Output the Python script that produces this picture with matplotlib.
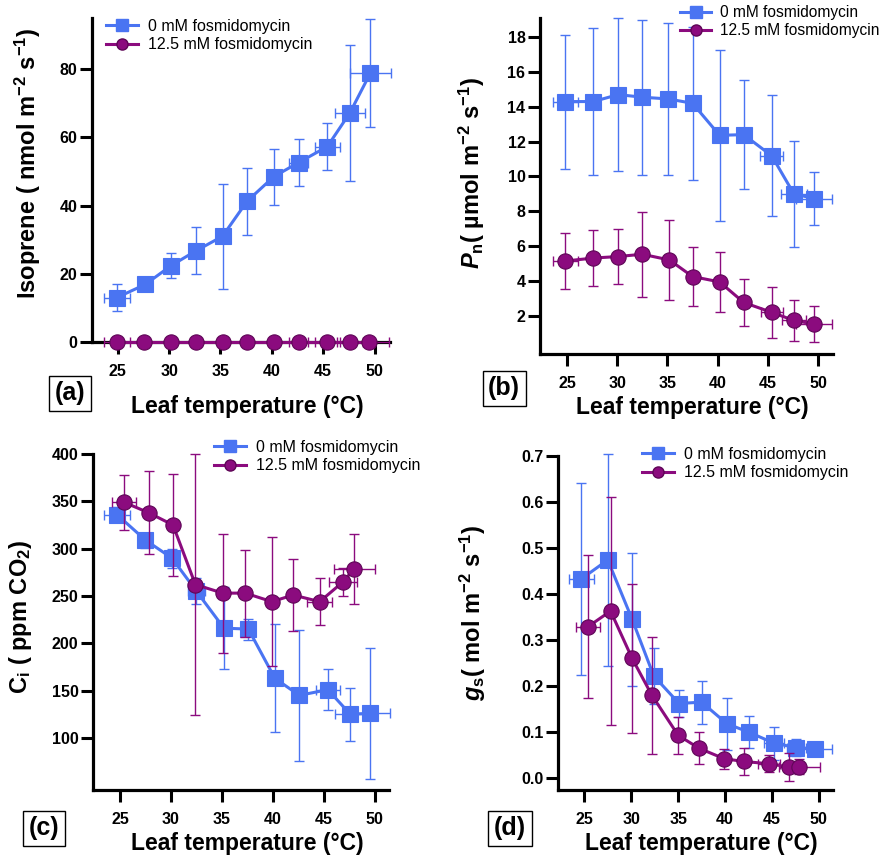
import matplotlib
matplotlib.use("Agg")
import matplotlib.pyplot as plt
from matplotlib.lines import Line2D

plt.rcParams['font.family'] = ['Liberation Sans', 'DejaVu Sans']
plt.rcParams['mathtext.fontset'] = 'custom'
plt.rcParams['mathtext.rm'] = 'Liberation Sans:bold'
plt.rcParams['mathtext.bf'] = 'Liberation Sans:bold'
plt.rcParams['mathtext.it'] = 'Liberation Sans:bold:italic'

BLUE = '#4A74F2'
PURPLE = '#8B0B7E'
PURPLE_EDGE = '#5E0656'

# (a) isoprene emission
temp_a_ctrl = [24.9, 27.7, 30.2, 32.6, 35.2, 37.6, 40.2, 42.6, 45.4, 47.6, 49.6]
iso_ctrl = [13.0, 16.9, 22.4, 26.7, 31.0, 41.3, 48.5, 52.6, 57.3, 67.2, 78.9]
iso_ctrl_err = [3.9, 0.8, 3.75, 6.9, 15.35, 9.8, 8.2, 6.9, 6.85, 20.0, 15.75]
temp_a_ctrl_err = [1.25, 0.3, 0.3, 0.3, 0.3, 0.3, 0.3, 0.9, 1.2, 1.5, 2.0]
temp_a_fos = [24.9, 27.6, 30.2, 32.6, 35.2, 37.6, 40.2, 42.6, 45.4, 47.6, 49.5]
iso_fos = [0, 0, 0, 0, 0, 0, 0, 0, 0, 0, 0]
iso_fos_err = [0, 0, 0, 0, 0, 0, 0, 0, 0, 0, 0]
temp_a_fos_err = [1.25, 0.3, 0.3, 0.3, 0.3, 0.3, 0.3, 0.9, 1.2, 1.3, 1.9]

# (b) net photosynthesis
temp_b_ctrl = [24.8, 27.6, 30.1, 32.5, 35.1, 37.5, 40.2, 42.6, 45.4, 47.6, 49.6]
pn_ctrl = [14.3, 14.3, 14.7, 14.55, 14.45, 14.2, 12.36, 12.4, 11.18, 9.0, 8.73]
pn_ctrl_err = [3.85, 4.2, 4.38, 4.44, 4.38, 4.4, 4.9, 3.15, 3.47, 3.03, 1.53]
temp_b_ctrl_err = [1.25, 0.3, 0.3, 0.3, 0.3, 0.3, 0.3, 0.3, 1.15, 1.3, 1.8]
temp_b_fos = [24.8, 27.6, 30.1, 32.5, 35.2, 37.5, 40.2, 42.6, 45.4, 47.6, 49.6]
pn_fos = [5.14, 5.31, 5.4, 5.53, 5.2, 4.25, 3.94, 2.76, 2.19, 1.73, 1.52]
pn_fos_err = [1.6, 1.6, 1.6, 2.44, 2.27, 1.7, 1.7, 1.33, 1.48, 1.17, 1.05]
temp_b_fos_err = [1.25, 0.3, 0.3, 0.3, 0.3, 0.3, 0.3, 0.5, 1.1, 1.2, 1.8]

# (c) intercellular CO2
temp_c_ctrl = [24.7, 27.5, 30.1, 32.5, 35.2, 37.6, 40.2, 42.6, 45.4, 47.6, 49.5]
ci_ctrl = [336, 309, 290, 255, 216, 215, 163, 145, 151, 125, 126]
ci_ctrl_err = [8, 8, 10, 13.5, 43, 11, 57, 69, 22, 28, 69]
temp_c_ctrl_err = [1.25, 0.3, 0.3, 0.8, 0.3, 0.3, 0.3, 0.3, 1.15, 1.5, 2.0]
temp_c_fos = [25.4, 27.8, 30.2, 32.4, 35.1, 37.3, 39.9, 42.0, 44.6, 46.9, 48.0]
ci_fos = [349, 338, 325, 262, 253, 253, 244, 251, 244, 265, 279]
ci_fos_err = [29, 44, 54, 138, 63, 46, 68, 38, 25, 15, 37]
temp_c_fos_err = [1.2, 0.3, 0.3, 0.3, 0.3, 0.3, 0.3, 0.3, 1.2, 1.4, 2.0]

# (d) stomatal conductance
temp_d_ctrl = [24.7, 27.5, 30.1, 32.4, 35.1, 37.5, 40.2, 42.5, 45.2, 47.6, 49.6]
gs_ctrl = [0.433, 0.474, 0.345, 0.222, 0.162, 0.165, 0.118, 0.100, 0.076, 0.066, 0.064]
gs_ctrl_err = [0.209, 0.23, 0.144, 0.06, 0.03, 0.047, 0.057, 0.034, 0.036, 0.019, 0.015]
temp_d_ctrl_err = [1.3, 0.3, 0.3, 0.3, 0.3, 0.3, 0.3, 0.3, 1.1, 1.0, 1.75]
temp_d_fos = [25.4, 27.8, 30.1, 32.2, 35.0, 37.2, 39.9, 42.0, 44.7, 46.8, 47.9]
gs_fos = [0.329, 0.363, 0.26, 0.18, 0.093, 0.065, 0.042, 0.036, 0.031, 0.024, 0.025]
gs_fos_err = [0.155, 0.248, 0.162, 0.127, 0.04, 0.034, 0.022, 0.029, 0.018, 0.03, 0.017]
temp_d_fos_err = [1.25, 0.3, 0.3, 0.3, 0.3, 0.3, 0.3, 0.3, 1.15, 0.5, 2.2]

x_ticks = [25, 30, 35, 40, 45, 50]
labels = ['0 mM fosmidomycin', '12.5 mM fosmidomycin']

fig = plt.figure(figsize=(8.84, 8.56), dpi=100)

W, H = 884.0, 856.0


def add_axes_px(left, right, top, bottom):
    return fig.add_axes([left / W, 1 - bottom / H, (right - left) / W, (bottom - top) / H])


def draw_series(ax, x, y, xerr, yerr, color, marker, ms, z):
    ax.errorbar(x, y, yerr=yerr, xerr=xerr, fmt='none', ecolor=color,
                elinewidth=1.0, capsize=3.5, capthick=1.0, zorder=z, clip_on=False)
    ax.plot(x, y, color=color, lw=2.2, zorder=z + 0.5, clip_on=False)
    ec = PURPLE_EDGE if marker == 'o' else color
    ax.plot(x, y, ls='none', marker=marker, ms=ms, mfc=color, mec=ec, mew=0.8,
            zorder=z + 1, clip_on=False)


def style_axes(ax, xlim, ylim, yticks, ylabel, ylab_xy, yfmt=None):
    ax.set_xlim(*xlim)
    ax.set_ylim(*ylim)
    ax.set_xticks(x_ticks)
    ax.set_yticks(yticks)
    if yfmt:
        ax.set_yticklabels([yfmt.format(v) for v in yticks])
    for s in ['top', 'right']:
        ax.spines[s].set_visible(False)
    for s in ['left', 'bottom']:
        ax.spines[s].set_linewidth(2.3)
    ax.tick_params(axis='both', direction='out', length=8.5, width=2.2, labelsize=11.5)
    ax.tick_params(axis='x', pad=7)
    ax.tick_params(axis='y', pad=2)
    for lab in ax.get_xticklabels() + ax.get_yticklabels():
        lab.set_fontweight('bold')
    ax.set_ylabel(ylabel, fontsize=17, fontweight='bold')
    ax.yaxis.set_label_coords(*ylab_xy)
    ax.set_xlabel('Leaf temperature (°C)', fontsize=16.5, fontweight='bold')
    ax.patch.set_alpha(0)


def add_legend(ax, x_px, y_px, size=11.5):
    handles = [
        Line2D([], [], color=BLUE, lw=2.2, marker='s', ms=8, mfc=BLUE, mec=BLUE),
        Line2D([], [], color=PURPLE, lw=2.2, marker='o', ms=8, mfc=PURPLE, mec=PURPLE_EDGE),
    ]
    fig.legend(handles, labels, loc='upper left', bbox_to_anchor=(x_px / W, 1 - y_px / H),
               frameon=False, fontsize=size, handlelength=2.0, handletextpad=0.6,
               labelspacing=0.2, borderaxespad=0, borderpad=0)


def panel_tag(x_px, y_px, tag):
    fig.text(x_px / W, 1 - y_px / H, tag, ha='center', va='center', fontsize=18,
             fontweight='bold',
             bbox=dict(boxstyle='square,pad=0.22', fc='white', ec='black', lw=1.0))


# (a)
ax = add_axes_px(92, 390, 18, 342)
draw_series(ax, temp_a_ctrl, iso_ctrl, temp_a_ctrl_err, iso_ctrl_err, BLUE, 's', 11, 3)
draw_series(ax, temp_a_fos, iso_fos, temp_a_fos_err, iso_fos_err, PURPLE, 'o', 11, 5)
style_axes(ax, (22.5, 51.5), (0, 95), [0, 20, 40, 60, 80],
           'Isoprene ( nmol m$^{-2}$ s$^{-1}$)', (-0.165, 0.55))
ax.xaxis.set_label_coords(0.52, -0.165)
add_legend(ax, 106, 19)
panel_tag(70, 393, '(a)')

# (b)
ax = add_axes_px(540, 833, 18, 354)
draw_series(ax, temp_b_ctrl, pn_ctrl, temp_b_ctrl_err, pn_ctrl_err, BLUE, 's', 11, 3)
draw_series(ax, temp_b_fos, pn_fos, temp_b_fos_err, pn_fos_err, PURPLE, 'o', 11, 5)
style_axes(ax, (22.3, 51.5), (-0.2, 19.1), [2, 4, 6, 8, 10, 12, 14, 16, 18],
           '$P_{\\mathrm{n}}$( µmol m$^{-2}$ s$^{-1}$)', (-0.18, 0.54))
ax.xaxis.set_label_coords(0.52, -0.125)
add_legend(ax, 680, 5, size=11.2)
panel_tag(504, 388, '(b)')

# (c)
ax = add_axes_px(93, 389, 454, 790)
draw_series(ax, temp_c_ctrl, ci_ctrl, temp_c_ctrl_err, ci_ctrl_err, BLUE, 's', 11, 3)
draw_series(ax, temp_c_fos, ci_fos, temp_c_fos_err, ci_fos_err, PURPLE, 'o', 11, 5)
style_axes(ax, (22.35, 51.4), (45, 400), [100, 150, 200, 250, 300, 350, 400],
           '$\\mathrm{C_i}$ ( ppm CO$_2$)', (-0.2, 0.515))
ax.xaxis.set_label_coords(0.52, -0.125)
add_legend(ax, 214, 440)
panel_tag(44, 828, '(c)')

# (d)
ax = add_axes_px(558, 833, 456, 790)
draw_series(ax, temp_d_ctrl, gs_ctrl, temp_d_ctrl_err, gs_ctrl_err, BLUE, 's', 11, 3)
draw_series(ax, temp_d_fos, gs_fos, temp_d_fos_err, gs_fos_err, PURPLE, 'o', 11, 5)
style_axes(ax, (22.2, 51.5), (-0.026, 0.7), [0.0, 0.1, 0.2, 0.3, 0.4, 0.5, 0.6, 0.7],
           '$g_{\\mathrm{s}}$( mol m$^{-2}$ s$^{-1}$)', (-0.255, 0.53), yfmt='{:.1f}')
ax.xaxis.set_label_coords(0.52, -0.125)
add_legend(ax, 642, 447)
panel_tag(510, 828, '(d)')

fig.savefig('out.png', dpi=100, facecolor='white')
